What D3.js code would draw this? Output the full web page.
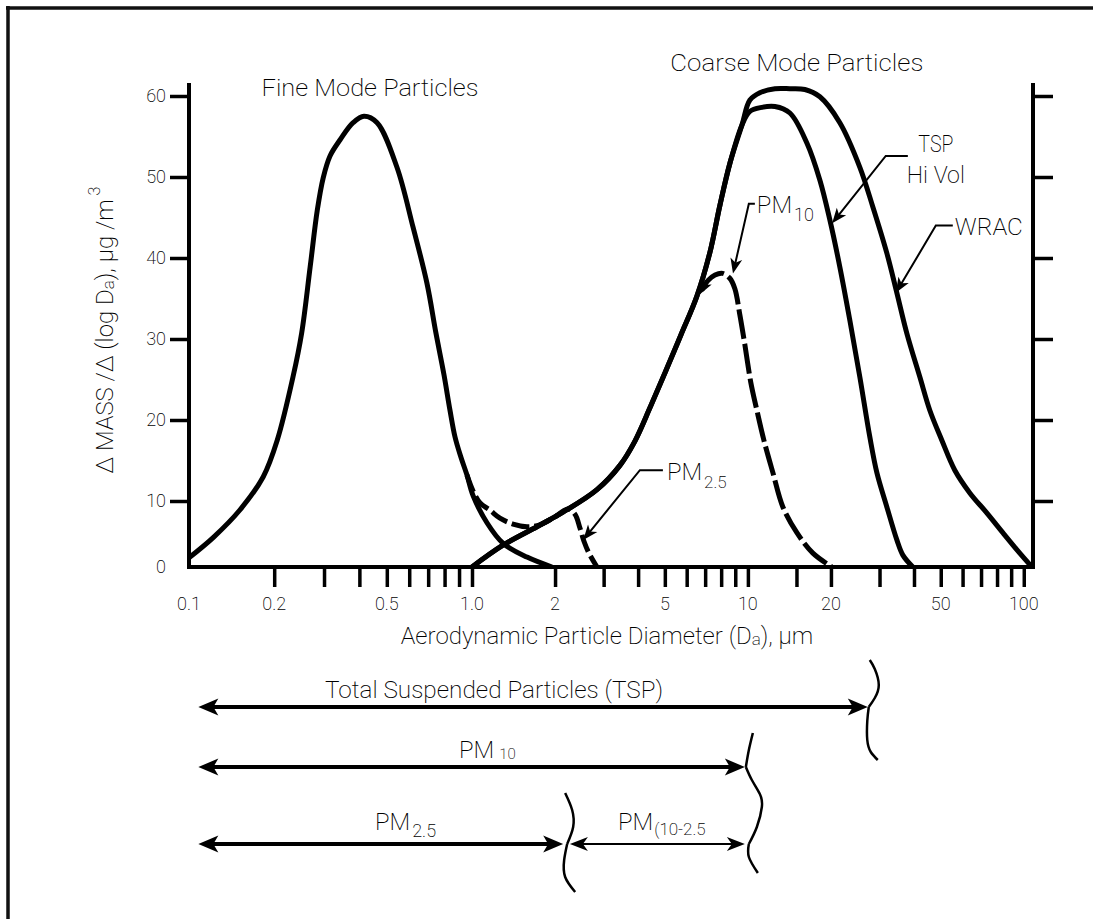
<!DOCTYPE html>
<html><head><meta charset="utf-8">
<script src="https://cdn.jsdelivr.net/npm/d3@7"></script>
<style>
body{margin:0;background:#fff}
svg{display:block}
text{font-family:Roboto,"DejaVu Sans",sans-serif;font-weight:200;fill:#000}
</style>
</head><body>
<svg id="c" width="1093" height="919"></svg>
<script>
// ---------------- data ----------------
// x: aerodynamic particle diameter (µm), y: ΔMASS/Δ(log Da) (µg/m³)
const fineX = [0.1, 0.122, 0.151, 0.183, 0.205, 0.233, 0.25, 0.268, 0.284, 0.298, 0.315, 0.342, 0.38, 0.415, 0.462, 0.543, 0.619, 0.693, 0.746, 0.796, 0.836, 0.871, 0.914, 0.96, 1.008, 1.133, 1.295, 1.582, 1.95];
const fineY = [1.4, 4.5, 8.6, 13.0, 17.5, 25.3, 30.7, 38.9, 45.9, 49.9, 52.6, 54.6, 56.7, 57.5, 56.7, 51.2, 43.8, 36.9, 30.7, 25.6, 21.2, 17.9, 15.4, 13.2, 10.7, 6.7, 3.6, 1.5, 0];

// rising side shared by the TSP Hi Vol and WRAC coarse curves
const coarseRiseX = [1.0, 1.295, 1.72, 2.137, 2.838, 3.438, 3.896, 4.415, 5.003, 5.717, 6.535, 7.284, 7.917, 8.607, 9.512];
const coarseRiseY = [0, 3.3, 6.1, 8.3, 11.4, 14.4, 17.4, 21.5, 25.8, 30.5, 35.3, 40.7, 46.5, 51.7, 56.4];

const tspHiVolX = [10.17, 11.23, 12.53, 14.2, 16.36, 18.24, 19.82, 21.54, 23.42, 25.46, 27.67, 29.34, 31.89, 34.67, 36.45, 39.62];
const tspHiVolY = [58.1, 58.6, 58.7, 57.9, 54.2, 49.6, 44.7, 38.9, 32.3, 25.3, 17.9, 13.5, 9.1, 4.1, 1.8, 0];

const wracX = [10.17, 11.05, 12.53, 14.2, 16.09, 18.24, 21.54, 25.46, 28.38, 31.89, 34.67, 37.68, 42.01, 45.64, 50.46, 56.23, 63.73, 73.42, 83.94, 96.7, 106];
const wracY = [59.5, 60.4, 60.9, 60.9, 60.8, 59.9, 56.7, 51.2, 46.3, 40.6, 35.7, 30.7, 25.3, 21.2, 17.5, 13.8, 11.0, 8.2, 5.2, 2.1, 0.2];

const pm10X = [6.8, 7.16, 7.6, 8.1, 8.6, 8.97, 9.35, 9.75, 10.25, 10.78, 11.43, 12.32, 13.39, 15.05, 17.2, 20.16];
const pm10Y = [36.0, 37.2, 37.9, 38.1, 37.5, 36.2, 33.0, 29.3, 24.6, 21.2, 17.5, 13.5, 9.1, 5.2, 2.1, 0];

const pm25X = [0.96, 1.01, 1.07, 1.162, 1.263, 1.408, 1.582, 1.764, 2.0, 2.227, 2.362, 2.462, 2.546, 2.654, 2.838];
const pm25Y = [13.2, 11.2, 9.7, 8.6, 7.4, 6.5, 6.1, 6.4, 7.6, 8.8, 8.0, 5.9, 3.9, 2.1, 0];

// axes
const yTickValues = [0, 10, 20, 30, 40, 50, 60];
const yRightTickValues = [10, 20, 30, 40, 50, 60];
const xTickValues = [0.2, 0.3, 0.4, 0.5, 0.6, 0.7, 0.8, 0.9, 1, 2, 3, 4, 5, 6, 7, 8, 9, 10, 15, 20, 30, 40, 50, 60, 70, 80, 90, 100];
const xLabelValues = [0.1, 0.2, 0.5, 1, 2, 5, 10, 20, 50, 100];
const xLabelTexts = ["0.1", "0.2", "0.5", "1.0", "2", "5", "10", "20", "50", "100"];

// mode titles (placed in data units above the plot)
const modeLabels = ["Fine Mode Particles", "Coarse Mode Particles"];
const modeLabelX = [0.436, 15.05];
const modeLabelY = [60.0, 63.1];

// leader arrows: tip on curve, elbow, start of short horizontal
const leaderNames = ["TSP Hi Vol", "WRAC", "PM10", "PM2.5"];
const leaderTipX = [20.2, 34.4, 8.83, 2.53];
const leaderTipY = [44.3, 35.7, 38.1, 4.1];
const leaderElbowX = [31.6, 48.0, 10.08, 4.06];
const leaderElbowY = [52.6, 44.0, 46.7, 13.8];
const leaderStartX = [38.0, 55.3, 10.6, 4.92];

// size-range arrows below the chart
const rangeNames = ["Total Suspended Particles (TSP)", "PM10", "PM2.5", "PM(10-2.5"];
const rangeFrom = [0.1079, 0.1079, 0.1079, 2.264];
const rangeTo = [27.2, 9.75, 2.14, 9.75];

// ---------------- layout ----------------
const W = 1093, H = 919;
const svg = d3.select("#c");
const x = d3.scaleLog().domain([0.1, 1, 108]).range([189, 472, 1033]);
const y = d3.scaleLinear().domain([0, 10, 60]).range([567, 501, 96]);
const X0 = x(0.1), X1 = x(108), Y0 = y(0), AXIS_TOP = 83;

// frame (top and left edges)
svg.append("line").attr("x1", 6).attr("x2", W).attr("y1", 8).attr("y2", 8)
  .attr("stroke", "#111").attr("stroke-width", 3.5);
svg.append("line").attr("x1", 8).attr("x2", 8).attr("y1", 6).attr("y2", H)
  .attr("stroke", "#111").attr("stroke-width", 3.5);

// markers
const defs = svg.append("defs");
function marker(id, d) {
  defs.append("marker").attr("id", id)
    .attr("viewBox", "-20 -12 32 24").attr("markerWidth", 32).attr("markerHeight", 24)
    .attr("refX", 0).attr("refY", 0).attr("markerUnits", "userSpaceOnUse")
    .attr("orient", "auto-start-reverse")
    .append("path").attr("d", d).attr("fill", "#000");
}
marker("big", "M8,0 L-12,-8.5 L-7,0 L-12,8.5 Z");
marker("mid", "M7,0 L-11,-7 L-6,0 L-11,7 Z");
marker("small", "M5,0 L-10,-6 L-6,0 L-10,6 Z");

// axes lines
svg.append("path")
  .attr("d", `M${X0},${AXIS_TOP} V${Y0} H${X1} V${AXIS_TOP}`)
  .attr("fill", "none").attr("stroke", "#000").attr("stroke-width", 4).attr("stroke-linejoin", "miter");

const gy = svg.append("g").attr("transform", `translate(${X0},0)`)
  .call(d3.axisLeft(y).tickValues(yTickValues).tickSize(19).tickPadding(4));
gy.select(".domain").remove();
gy.attr("font-size", 18).attr("font-family", null);
gy.selectAll(".tick line").attr("stroke", "#000").attr("stroke-width", 3.5);
gy.selectAll(".tick").filter(d => d === 0).select("line").remove();

const gr = svg.append("g").attr("transform", `translate(${X1},0)`)
  .call(d3.axisRight(y).tickValues(yRightTickValues).tickSize(20).tickFormat(() => ""));
gr.select(".domain").remove();
gr.selectAll(".tick line").attr("stroke", "#000").attr("stroke-width", 3.5);

const gx = svg.append("g").attr("transform", `translate(0,${Y0})`)
  .call(d3.axisBottom(x).tickValues(xTickValues).tickSize(20).tickFormat(() => ""));
gx.select(".domain").remove();
gx.selectAll(".tick line").attr("stroke", "#000").attr("stroke-width", 3.5);

svg.append("g").selectAll("text").data(xLabelValues).join("text")
  .attr("x", d => x(d)).attr("y", 610).attr("text-anchor", "middle")
  .attr("font-size", 18).text((d, i) => xLabelTexts[i]);

// axis titles
const xt = svg.append("text").attr("x", 607).attr("y", 644).attr("text-anchor", "middle").attr("font-size", 24);
xt.append("tspan").text("Aerodynamic Particle Diameter (D");
xt.append("tspan").attr("font-size", 17).attr("dy", 1).text("a");
xt.append("tspan").attr("dy", -1).text("), μm");

const yt = svg.append("text").attr("transform", "translate(113,330) rotate(-90)")
  .attr("text-anchor", "middle").attr("font-size", 24);
yt.append("tspan").text("Δ MASS /Δ (log D");
yt.append("tspan").attr("font-size", 17).attr("dy", 1).text("a");
yt.append("tspan").attr("dy", -1).text("), μg /m");
yt.append("tspan").attr("font-size", 16).attr("dx", 4).attr("dy", -13).text("3");

// mode titles
svg.append("g").selectAll("text").data(modeLabels).join("text")
  .attr("x", (d, i) => x(modeLabelX[i])).attr("y", (d, i) => y(modeLabelY[i]))
  .attr("text-anchor", "middle").attr("font-size", 24)
  .attr("textLength", (d, i) => [217, 253][i]).attr("lengthAdjust", "spacingAndGlyphs")
  .text(d => d);

// ---------------- curves ----------------
const zip = (a, b) => a.map((v, i) => [v, b[i]]);
const line = d3.line().x(d => x(d[0])).y(d => y(d[1])).curve(d3.curveCatmullRom.alpha(0.5));

const fine = zip(fineX, fineY);
const rise = zip(coarseRiseX, coarseRiseY);
const tsp = rise.concat(zip(tspHiVolX, tspHiVolY));
const wrac = rise.concat(zip(wracX, wracY));
const pm10 = zip(pm10X, pm10Y);
const pm25 = zip(pm25X, pm25Y);

const cg = svg.append("g").attr("fill", "none").attr("stroke", "#000")
  .attr("stroke-width", 5).attr("stroke-linejoin", "round").attr("stroke-linecap", "butt");
cg.append("path").attr("d", line(fine));
cg.append("path").attr("d", line(wrac));
cg.append("path").attr("d", line(tsp));
cg.append("path").attr("d", line(pm10)).attr("stroke-dasharray", "30,5")
  .attr("marker-start", "url(#small)");
cg.append("path").attr("d", line(pm25)).attr("stroke-dasharray", "18,5");

// ---------------- leaders ----------------
function shorten(p0, p1, d) {
  const dx = p1[0] - p0[0], dy = p1[1] - p0[1], L = Math.hypot(dx, dy);
  return [p1[0] - dx / L * d, p1[1] - dy / L * d];
}
const lg = svg.append("g");
leaderNames.forEach((n, i) => {
  const s = [x(leaderStartX[i]), y(leaderElbowY[i])];
  const e = [x(leaderElbowX[i]), y(leaderElbowY[i])];
  const t = [x(leaderTipX[i]), y(leaderTipY[i])];
  const tt = shorten(e, t, 5);
  lg.append("path").attr("d", `M${s[0]},${s[1]} L${e[0]},${e[1]} L${tt[0]},${tt[1]}`)
    .attr("fill", "none").attr("stroke", "#000").attr("stroke-width", 2)
    .attr("marker-end", "url(#small)");
});
// leader labels
{
  const s0 = x(leaderStartX[0]), ly0 = y(leaderElbowY[0]);
  lg.append("text").attr("x", s0 + 28).attr("y", ly0 - 4).attr("text-anchor", "middle")
    .attr("font-size", 24).attr("textLength", 35).attr("lengthAdjust", "spacingAndGlyphs").text("TSP");
  lg.append("text").attr("x", s0 + 28).attr("y", ly0 + 27).attr("text-anchor", "middle")
    .attr("font-size", 24).attr("textLength", 58).attr("lengthAdjust", "spacingAndGlyphs").text("Hi Vol");
  const s1 = x(leaderStartX[1]), ly1 = y(leaderElbowY[1]);
  lg.append("text").attr("x", s1 + 2).attr("y", ly1 + 9).attr("font-size", 24)
    .attr("textLength", 68).attr("lengthAdjust", "spacingAndGlyphs").text("WRAC");
  const s2 = x(leaderStartX[2]), ly2 = y(leaderElbowY[2]);
  const t2 = lg.append("text").attr("x", s2 + 2).attr("y", ly2 + 9).attr("font-size", 24);
  t2.append("tspan").text("PM");
  t2.append("tspan").attr("font-size", 18).attr("dx", 2).attr("dy", 8).text("10");
  const s3 = x(leaderStartX[3]), ly3 = y(leaderElbowY[3]);
  const t3 = lg.append("text").attr("x", s3 + 4).attr("y", ly3 + 10).attr("font-size", 24);
  t3.append("tspan").text("PM");
  t3.append("tspan").attr("font-size", 17).attr("dx", 2).attr("dy", 8).text("2.5");
}

// ---------------- size-range arrows ----------------
const rowY = [707, 767, 844, 844];
const rowW = [4, 4, 4, 2];
const bg = svg.append("g");
rangeNames.forEach((n, i) => {
  const a = x(rangeFrom[i]), b = x(rangeTo[i]);
  const hd = i === 3 ? 7 : 8;
  bg.append("line").attr("x1", a + hd).attr("x2", b - hd).attr("y1", rowY[i]).attr("y2", rowY[i])
    .attr("stroke", "#000").attr("stroke-width", rowW[i])
    .attr("marker-start", i === 3 ? "url(#mid)" : "url(#big)")
    .attr("marker-end", i === 3 ? "url(#mid)" : "url(#big)");
});
bg.append("text").attr("x", 494).attr("y", 698).attr("text-anchor", "middle").attr("font-size", 24)
  .attr("textLength", 338).attr("lengthAdjust", "spacingAndGlyphs").text(rangeNames[0]);
{
  const t = bg.append("text").attr("x", 459).attr("y", 758).attr("font-size", 24);
  t.append("tspan").text("PM");
  t.append("tspan").attr("font-size", 15).attr("dx", 5).attr("dy", 1).text("10");
  const u = bg.append("text").attr("x", 375).attr("y", 830).attr("font-size", 24);
  u.append("tspan").text("PM");
  u.append("tspan").attr("font-size", 18).attr("dx", 2).attr("dy", 7).text("2.5");
  const v = bg.append("text").attr("x", 618).attr("y", 830).attr("font-size", 24);
  v.append("tspan").text("PM");
  v.append("tspan").attr("font-size", 17).attr("dx", 1).attr("dy", 5).text("(10-2.5");
}

// braces at the end of each size range
const braceLine = d3.line().curve(d3.curveNatural);
function brace(cx, cy, segs) {
  segs.forEach(seg => {
    bg.append("path").attr("d", braceLine(seg.map(p => [cx + p[0], cy + p[1]])))
      .attr("fill", "none").attr("stroke", "#000").attr("stroke-width", 2.5);
  });
}
brace(x(rangeTo[0]) + 1, rowY[0], [
  [[1, -47], [6, -38], [10, -22], [6, -9], [0, 0]],
  [[0, 0], [-1.5, 14], [-1.5, 33], [2, 45], [9, 53]]
]);
brace(x(rangeTo[1]) + 1, rowY[1], [
  [[7, -34], [3, -17], [0, 0]],
  [[0, 0], [6, 13], [14, 27], [16, 40], [11, 60], [3, 77]],
  [[3, 77], [3, 90], [12, 106]]
]);
brace(x(rangeTo[2]) + 4, rowY[2], [
  [[-2, -51], [5, -34], [6, -17], [0, 0]],
  [[0, 0], [-3, 16], [-2, 33], [8, 48]]
]);
</script>
</body></html>
